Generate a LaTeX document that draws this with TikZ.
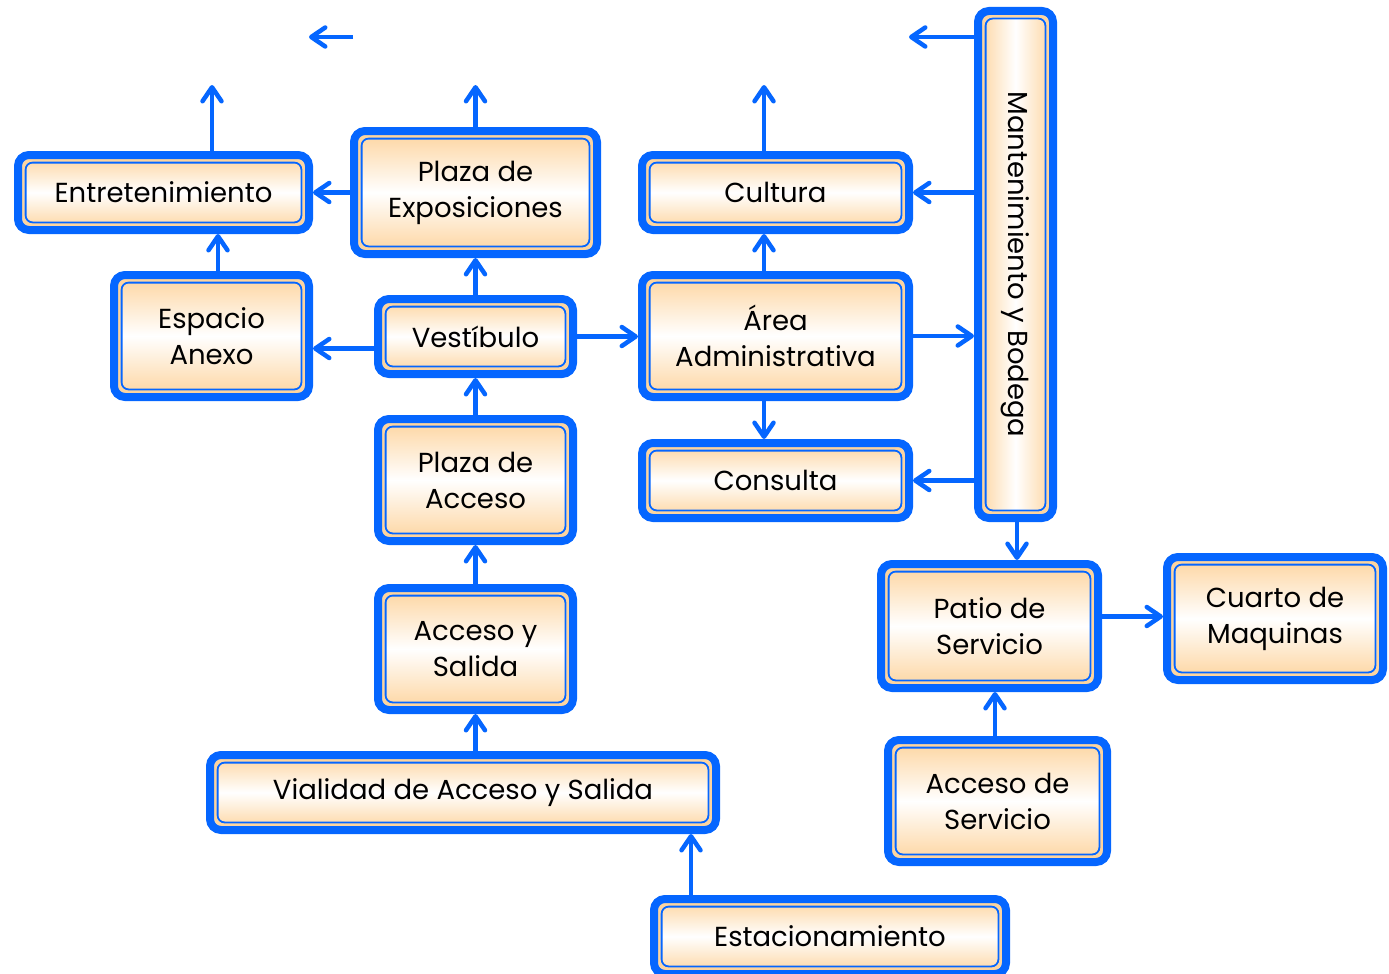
\documentclass[tikz,border=0pt]{standalone}
\usepackage{fontspec}
\setmainfont{Poppins}
\usetikzlibrary{arrows.meta,calc}
\definecolor{myblue}{RGB}{5,102,255}
\definecolor{peach}{RGB}{253,212,158}
\tikzset{
  x=1pt, y=-1pt,
  roombase/.style={rectangle, rounded corners=11pt, draw=myblue, line width=8pt,
    align=center, inner sep=0pt, text=black,
    font=\fontsize{27.5}{36}\selectfont,
    path picture={
      \draw[peach, line width=2.6pt, rounded corners=8pt]
        ([shift={(5.3pt,-5.3pt)}]path picture bounding box.north west) rectangle ([shift={(-5.3pt,5.3pt)}]path picture bounding box.south east);
      \draw[myblue, line width=1.8pt, rounded corners=7pt]
        ([shift={(7.6pt,-7.6pt)}]path picture bounding box.north west) rectangle ([shift={(-7.6pt,7.6pt)}]path picture bounding box.south east);
    }},
  room/.style={roombase, top color=peach, bottom color=peach, middle color=white},
  roomv/.style={roombase, left color=peach, right color=peach, middle color=white},
  arr/.style={draw=myblue, line width=4.5pt, -{Straight Barb[length=14pt,width=19pt,round]}},
}
\begin{document}
\begin{tikzpicture}
\useasboundingbox (0,0) rectangle (1389,974);
% boxes (path centred; outer extents minus 8)
\node[room, minimum width=291, minimum height=75] (Entre) at (163.5,192.5) {Entretenimiento};
\node[room, minimum width=243, minimum height=123] (PExp) at (475.5,192.5) {Plaza de\\Exposiciones};
\node[room, minimum width=267, minimum height=75] (Cult) at (775.5,192.5) {Cultura};
\node[roomv, minimum width=75, minimum height=507] (Mant) at (1015.5,264.5) {\rotatebox{-90}{Mantenimiento y Bodega}};
\node[room, minimum width=195, minimum height=122] (Anexo) at (211.5,336) {Espacio\\Anexo};
\node[room, minimum width=195, minimum height=75] (Vest) at (475.5,336.5) {Vestíbulo};
\node[room, minimum width=267, minimum height=122] (Area) at (775.5,336) {Área\\Administrativa};
\node[room, minimum width=195, minimum height=122] (PAcc) at (475.5,480) {Plaza de\\Acceso};
\node[room, minimum width=267, minimum height=75] (Cons) at (775.5,480.5) {Consulta};
\node[room, minimum width=195, minimum height=122] (AyS) at (475.5,649) {Acceso y\\Salida};
\node[room, minimum width=217, minimum height=124] (Patio) at (989.5,626) {Patio de\\Servicio};
\node[room, minimum width=216, minimum height=123] (Cuarto) at (1275,618.5) {Cuarto de\\Maquinas};
\node[room, minimum width=219, minimum height=122] (AccS) at (997.5,801) {Acceso de\\Servicio};
\node[room, minimum width=506, minimum height=75] (Vial) at (463,792.5) {Vialidad de Acceso y Salida};
\node[room, minimum width=352, minimum height=75] (Estac) at (830,936.5) {Estacionamiento};
% free ends
\coordinate (fl1) at (353,37);
\coordinate (fl2) at (309,37);
\coordinate (fr) at (909,37);
\coordinate (u1) at (212,85);
\coordinate (u2) at (475.5,85);
\coordinate (u3) at (764,85);
\coordinate (x691) at (691,0);
% connectors
\draw[arr] (fl1) -- (fl2);
\draw[arr] (Mant.west |- fr) -- (fr);
\draw[arr] (Entre.north -| u1) -- (u1);
\draw[arr] (PExp.north) -- (u2);
\draw[arr] (Cult.north -| u3) -- (u3);
\draw[arr] (PExp.west) -- (PExp.west -| Entre.east);
\draw[arr] (Mant.west |- Cult.east) -- (Cult.east);
\draw[arr] ([xshift=6.5pt]Anexo.north) -- ([xshift=6.5pt]Anexo.north |- Entre.south);
\draw[arr] (Vest.north) -- (PExp.south);
\draw[arr] ([yshift=-12pt]Vest.west) -- ([yshift=-12pt]Vest.west -| Anexo.east);
\draw[arr] (Vest.east) -- (Vest.east -| Area.west);
\draw[arr] (Area.north -| u3) -- (Cult.south -| u3);
\draw[arr] (Area.east) -- (Area.east -| Mant.west);
\draw[arr] (Area.south -| u3) -- (Cons.north -| u3);
\draw[arr] (Mant.west |- Cons.east) -- (Cons.east);
\draw[arr] (PAcc.north) -- (Vest.south);
\draw[arr] (AyS.north) -- (PAcc.south);
\draw[arr] (AyS.south |- Vial.north) -- (AyS.south);
\draw[arr] (Estac.north -| x691) -- (Vial.south -| x691);
\draw[arr] ([xshift=1.5pt]Mant.south) -- ([xshift=1.5pt]Mant.south |- Patio.north);
\draw[arr] ([yshift=2pt]Patio.east |- Cuarto.west) -- ([yshift=2pt]Cuarto.west);
\draw[arr] ([xshift=-2.5pt]AccS.north) -- ([xshift=-2.5pt]AccS.north |- Patio.south);
\end{tikzpicture}
\end{document}
